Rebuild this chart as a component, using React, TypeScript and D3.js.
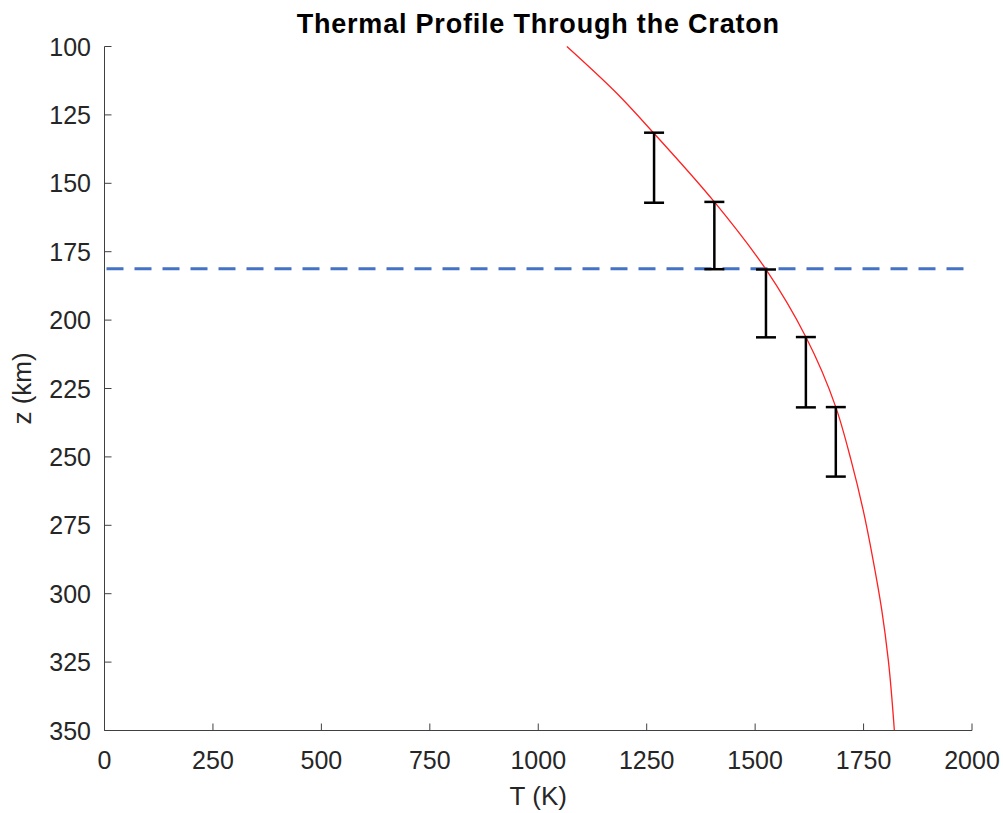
import React from "react";
import * as d3 from "d3";

// Thermal profile
const profileZ = [100, 117.1, 131.6, 156.8, 181.5, 206.2, 231.8, 251.1, 269.4, 287.7, 306, 324.2, 350];
const profileT = [1066, 1181, 1266, 1406, 1525, 1617, 1686, 1721, 1749, 1772, 1792, 1807, 1821];

// Error bars: temperature, top depth, bottom depth
const barT = [1267, 1406, 1525, 1617, 1686];
const barZTop = [131.5, 156.8, 181.5, 206.2, 231.8];
const barZBottom = [157.1, 181.4, 206.3, 231.9, 257.2];

// Horizontal dashed line depth
const dashedZ = 181.2;

const xTicks = [0, 250, 500, 750, 1000, 1250, 1500, 1750, 2000];
const yTicks = [100, 125, 150, 175, 200, 225, 250, 275, 300, 325, 350];

const W = 1003;
const H = 813;
const left = 104.5;
const right = 972;
const top = 46.5;
const bottom = 730.5;

export default function App() {
  const x = d3.scaleLinear().domain([0, 2000]).range([left, right]);
  const y = d3.scaleLinear().domain([100, 350]).range([top, bottom]);

  const pts: [number, number][] = profileZ.map((z, i) => [profileT[i], z]);
  const line = d3
    .line<[number, number]>()
    .x((d) => x(d[0]))
    .y((d) => y(d[1]))
    .curve(d3.curveMonotoneY);

  const font = "'Liberation Sans', Arial, Helvetica, sans-serif";
  const tickLen = 7;
  const axisColor = "#404040";
  const textColor = "#262626";

  return (
    <svg
      width={W}
      height={H}
      style={{ position: "absolute", left: 0, top: 0, background: "#fff" }}
      fontFamily={font}
    >
      <rect x={0} y={0} width={W} height={H} fill="#fff" />
      {/* dashed line */}
      <line
        x1={x(0)}
        x2={x(2000)}
        y1={y(dashedZ)}
        y2={y(dashedZ)}
        stroke="#4472C4"
        strokeWidth={3}
        strokeDasharray="17 11"
        strokeDashoffset={-2}
      />
      {/* profile curve */}
      <path d={line(pts) || ""} fill="none" stroke="#ff2020" strokeWidth={1.3} />
      {/* error bars */}
      {barT.map((t, i) => (
        <g key={i} stroke="#000" strokeWidth={2.5}>
          <line x1={x(t)} x2={x(t)} y1={y(barZTop[i])} y2={y(barZBottom[i])} />
          <line x1={x(t) - 10} x2={x(t) + 10} y1={y(barZTop[i])} y2={y(barZTop[i])} />
          <line x1={x(t) - 10} x2={x(t) + 10} y1={y(barZBottom[i])} y2={y(barZBottom[i])} />
        </g>
      ))}
      {/* axes */}
      <line x1={left} x2={right} y1={bottom} y2={bottom} stroke={axisColor} strokeWidth={1} />
      <line x1={left} x2={left} y1={top} y2={bottom} stroke={axisColor} strokeWidth={1} />
      {xTicks.map((t) => (
        <g key={"x" + t}>
          <line x1={x(t)} x2={x(t)} y1={bottom} y2={bottom - tickLen} stroke={axisColor} strokeWidth={1} />
          <text x={x(t)} y={769} textAnchor="middle" fontSize={25} fill={textColor}>
            {t}
          </text>
        </g>
      ))}
      {yTicks.map((t) => (
        <g key={"y" + t}>
          <line x1={left} x2={left + tickLen} y1={y(t)} y2={y(t)} stroke={axisColor} strokeWidth={1} />
          <text x={91} y={y(t) + 9} textAnchor="end" fontSize={25} fill={textColor}>
            {t}
          </text>
        </g>
      ))}
      <text x={(left + right) / 2} y={805} textAnchor="middle" fontSize={26} fill={textColor}>
        T (K)
      </text>
      <text
        transform={`translate(31, ${(top + bottom) / 2}) rotate(-90)`}
        textAnchor="middle"
        fontSize={26}
        fill={textColor}
      >
        z (km)
      </text>
      <text
        x={(left + right) / 2}
        y={33}
        textAnchor="middle"
        fontSize={27}
        fontWeight="bold"
        letterSpacing={0.8}
        fill="#000"
      >
        Thermal Profile Through the Craton
      </text>
    </svg>
  );
}
